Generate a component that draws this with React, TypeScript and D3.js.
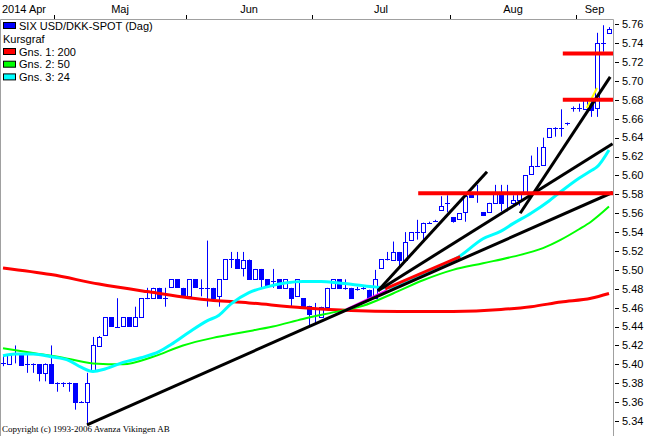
import * as d3 from "d3";

const W = 649;
const H = 436;
const plotRight = 613;
const plotTop = 19;

// daily candles, mid April -> 8 Sep 2014
const open = [
  5.402, 5.401, 5.41, 5.41, 5.4, 5.4, 5.4, 5.391, 5.4, 5.38,
  5.38, 5.38, 5.38, 5.36, 5.36, 5.392, 5.42, 5.431, 5.45, 5.44,
  5.441, 5.45, 5.441, 5.45, 5.47, 5.47, 5.481, 5.47, 5.482, 5.49,
  5.481, 5.472, 5.49, 5.481, 5.481, 5.481, 5.472, 5.49, 5.511, 5.511,
  5.502, 5.51, 5.49, 5.501, 5.49, 5.487, 5.49, 5.481, 5.481, 5.472,
  5.47, 5.462, 5.458, 5.45, 5.461, 5.481, 5.49, 5.481, 5.481, 5.481,
  5.479, 5.479, 5.47, 5.502, 5.511, 5.511, 5.519, 5.511, 5.532, 5.54,
  5.541, 5.55, 5.551, 5.564, 5.569, 5.556, 5.554, 5.561, 5.58, 5.578,
  5.561, 5.561, 5.571, 5.579, 5.579, 5.571, 5.574, 5.581, 5.602, 5.61,
  5.611, 5.641, 5.65, 5.65, 5.654, 5.67, 5.671, 5.671, 5.677, 5.671,
  5.74, 5.751,
];
const high = [
  5.41, 5.411, 5.42, 5.41, 5.41, 5.401, 5.4, 5.401, 5.42, 5.381,
  5.381, 5.381, 5.38, 5.361, 5.391, 5.429, 5.43, 5.45, 5.45, 5.47,
  5.45, 5.45, 5.461, 5.47, 5.481, 5.481, 5.481, 5.481, 5.49, 5.49,
  5.481, 5.49, 5.49, 5.49, 5.531, 5.481, 5.49, 5.511, 5.519, 5.519,
  5.519, 5.511, 5.501, 5.501, 5.49, 5.501, 5.49, 5.49, 5.481, 5.49,
  5.47, 5.462, 5.465, 5.461, 5.481, 5.49, 5.49, 5.49, 5.481, 5.482,
  5.482, 5.479, 5.5, 5.511, 5.519, 5.53, 5.519, 5.54, 5.54, 5.553,
  5.55, 5.551, 5.553, 5.578, 5.579, 5.556, 5.56, 5.58, 5.58, 5.59,
  5.561, 5.571, 5.59, 5.59, 5.59, 5.579, 5.581, 5.6, 5.621, 5.63,
  5.64, 5.65, 5.651, 5.67, 5.656, 5.673, 5.676, 5.68, 5.68, 5.751,
  5.759, 5.757,
];
const low = [
  5.398, 5.4, 5.401, 5.399, 5.391, 5.391, 5.382, 5.382, 5.38, 5.371,
  5.376, 5.371, 5.352, 5.359, 5.336, 5.392, 5.42, 5.431, 5.44, 5.439,
  5.441, 5.441, 5.441, 5.45, 5.469, 5.47, 5.47, 5.461, 5.482, 5.482,
  5.472, 5.472, 5.482, 5.472, 5.461, 5.47, 5.461, 5.49, 5.502, 5.501,
  5.493, 5.49, 5.49, 5.481, 5.484, 5.481, 5.481, 5.481, 5.461, 5.472,
  5.462, 5.44, 5.444, 5.45, 5.461, 5.481, 5.481, 5.479, 5.47, 5.478,
  5.479, 5.47, 5.47, 5.502, 5.51, 5.511, 5.502, 5.511, 5.532, 5.532,
  5.532, 5.549, 5.551, 5.564, 5.561, 5.55, 5.554, 5.551, 5.577, 5.571,
  5.557, 5.561, 5.571, 5.562, 5.562, 5.568, 5.568, 5.581, 5.602, 5.609,
  5.611, 5.641, 5.641, 5.641, 5.653, 5.6675, 5.6675, 5.671, 5.662, 5.662,
  5.731, 5.751,
];
const close = [
  5.401, 5.41, 5.411, 5.399, 5.4, 5.4, 5.391, 5.4, 5.38, 5.38,
  5.38, 5.38, 5.36, 5.36, 5.38, 5.42, 5.429, 5.45, 5.44, 5.44,
  5.45, 5.441, 5.45, 5.47, 5.47, 5.481, 5.47, 5.47, 5.49, 5.482,
  5.472, 5.49, 5.482, 5.481, 5.481, 5.47, 5.49, 5.511, 5.511, 5.501,
  5.51, 5.49, 5.501, 5.49, 5.484, 5.488, 5.481, 5.49, 5.47, 5.49,
  5.462, 5.454, 5.459, 5.461, 5.481, 5.49, 5.481, 5.481, 5.47, 5.48,
  5.481, 5.47, 5.49, 5.511, 5.511, 5.519, 5.511, 5.53, 5.54, 5.54,
  5.55, 5.55, 5.552, 5.568, 5.571, 5.552, 5.56, 5.578, 5.577, 5.58,
  5.558, 5.571, 5.58, 5.571, 5.58, 5.574, 5.581, 5.6, 5.61, 5.61,
  5.63, 5.65, 5.65, 5.65, 5.655, 5.671, 5.671, 5.68, 5.67, 5.74,
  5.74, 5.755,
];

// moving averages: [candle index, value]
const ma200: [number, number][] = [
  [0, 5.502], [8, 5.495], [16, 5.485], [24, 5.477], [33, 5.469], [41, 5.465],
  [50, 5.46], [58, 5.457], [66, 5.456], [75, 5.456], [83, 5.458], [88, 5.461],
  [93, 5.466], [98, 5.47], [101, 5.475],
];
const ma50: [number, number][] = [
  [0, 5.417], [5, 5.412], [10, 5.407], [15, 5.401], [20, 5.4], [25, 5.408],
  [30, 5.42], [35, 5.428], [40, 5.434], [45, 5.44], [50, 5.448], [55, 5.455],
  [60, 5.462], [65, 5.475], [70, 5.489], [75, 5.5], [80, 5.507], [85, 5.514],
  [90, 5.523], [93, 5.532], [96, 5.543], [98, 5.551], [101, 5.567],
];
const ma24: [number, number][] = [
  [0, 5.409], [2, 5.411], [5, 5.411], [8, 5.408], [11, 5.404], [13, 5.397],
  [15, 5.3925], [17, 5.395], [20, 5.402], [23, 5.407], [26, 5.4135], [28, 5.421],
  [31, 5.434], [34, 5.446], [36, 5.452], [38, 5.464], [41, 5.476], [44, 5.482],
  [47, 5.486], [50, 5.4876], [53, 5.4876], [56, 5.486], [59, 5.484], [62, 5.482],
  [64, 5.481], [66, 5.484], [70, 5.495], [73, 5.504], [76, 5.514], [80, 5.533],
  [83, 5.541], [85, 5.549], [88, 5.56], [91, 5.573], [93, 5.583], [96, 5.597],
  [98, 5.605], [99, 5.609], [101, 5.627],
];

// drawn trend lines
const blackLines: [number, number][][] = [
  [[14, 5.336], [101.6, 5.582]],
  [[62.5, 5.478], [101.6, 5.6335]],
  [[62.5, 5.478], [80.67, 5.604]],
  [[86.2, 5.56], [101.2, 5.7044]],
];
const redSegment: [number, number][] = [[63.7, 5.48], [76.2, 5.514]];
const magentaSegment: [number, number][] = [[57.3, 5.458], [64, 5.478]];
const yellowSegment: [number, number][] = [[97.3, 5.6714], [99, 5.6926]];
const levels = [
  { price: 5.581, from: 69.2 },
  { price: 5.68, from: 93.3 },
  { price: 5.729, from: 93.3 },
];

const yTicks = [
  5.34, 5.36, 5.38, 5.4, 5.42, 5.44, 5.46, 5.48, 5.5, 5.52, 5.54,
  5.56, 5.58, 5.6, 5.62, 5.64, 5.66, 5.68, 5.7, 5.72, 5.74, 5.76,
];
const monthNames = ["Maj", "Jun", "Jul", "Aug", "Sep"];
const monthStart = [9, 31, 52, 75, 96];

const legendItems = [
  { color: "#ff0000", label: "Gns. 1: 200" },
  { color: "#00ff00", label: "Gns. 2: 50" },
  { color: "#00ffff", label: "Gns. 3: 24" },
];

const font = "'Liberation Sans', Arial, sans-serif";

export default function App() {
  const x = d3.scaleLinear([0, 101], [3, 609]);
  const y = d3.scaleLinear([5.34, 5.76], [421, 24.3]);
  const curve = d3
    .line<[number, number]>((d) => x(d[0]), (d) => y(d[1]))
    .curve(d3.curveMonotoneX);
  const straight = d3.line<[number, number]>((d) => x(d[0]), (d) => y(d[1]));
  const fmt = d3.format(".2f");

  const bounds = [x(-0.5), ...monthStart.map((m) => x(m - 0.5)), plotRight];

  return (
    <svg
      width={W}
      height={H}
      style={{ position: "fixed", left: 0, top: 0, background: "#fff" }}
      fontFamily={font}
    >
      <defs>
        <clipPath id="plot">
          <rect x={0} y={plotTop} width={plotRight} height={H - plotTop} />
        </clipPath>
      </defs>
      <rect width={W} height={H} fill="#fff" />

      {/* month axis */}
      <text x={2} y={13} fontSize={11}>
        2014 Apr
      </text>
      {monthNames.map((m, i) => (
        <text
          key={m}
          x={(bounds[i + 1] + bounds[i + 2]) / 2}
          y={13}
          fontSize={11}
          textAnchor="middle"
        >
          {m}
        </text>
      ))}
      {monthStart.map((m) => (
        <line
          key={m}
          x1={Math.round(x(m - 0.5)) + 0.5}
          x2={Math.round(x(m - 0.5)) + 0.5}
          y1={15}
          y2={plotTop}
          stroke="#000"
        />
      ))}

      {/* frame */}
      <path
        d={`M0.5,${H}V${plotTop + 0.5}H${plotRight + 0.5}V${H}`}
        fill="none"
        stroke="#a0a0a0"
      />

      {/* price axis */}
      {yTicks.map((t) => (
        <g key={t}>
          <line
            x1={615}
            x2={619}
            y1={Math.round(y(t)) + 0.5}
            y2={Math.round(y(t)) + 0.5}
            stroke="#000"
          />
          <text x={622} y={y(t)} dy="0.35em" fontSize={11}>
            {fmt(t)}
          </text>
        </g>
      ))}

      <g clipPath="url(#plot)">
        {/* candles */}
        {open.map((o, i) => {
          const c = close[i];
          const cx = Math.round(x(i)) + 0.5;
          const top = y(Math.max(o, c));
          const bot = y(Math.min(o, c));
          const flat = Math.abs(o - c) < 0.0025;
          return (
            <g key={i} stroke="#0000ff" strokeWidth={1}>
              <line x1={cx} x2={cx} y1={y(high[i])} y2={y(low[i])} />
              {flat ? (
                <line
                  x1={cx - 2.5}
                  x2={cx + 2.5}
                  y1={Math.round(y(c)) + 0.5}
                  y2={Math.round(y(c)) + 0.5}
                />
              ) : (
                <rect
                  x={cx - 2}
                  y={Math.round(top) + 0.5}
                  width={4}
                  height={Math.max(1, Math.round(bot - top))}
                  fill={c < o ? "#0000ff" : "#ffffff"}
                />
              )}
            </g>
          );
        })}

        {/* moving averages */}
        <path d={curve(ma200) ?? ""} fill="none" stroke="#ff0000" strokeWidth={3} />
        <path d={curve(ma50) ?? ""} fill="none" stroke="#00ff00" strokeWidth={2} />
        <path d={curve(ma24) ?? ""} fill="none" stroke="#00ffff" strokeWidth={3} />

        {/* trend lines */}
        <path d={straight(magentaSegment) ?? ""} stroke="#ff00ff" strokeWidth={3} />
        <path d={straight(redSegment) ?? ""} stroke="#ff0000" strokeWidth={3} />
        {blackLines.map((l, i) => (
          <path key={i} d={straight(l) ?? ""} stroke="#000" strokeWidth={3} />
        ))}
        <path d={straight(yellowSegment) ?? ""} stroke="#ffff00" strokeWidth={2} />
        {levels.map((lv) => (
          <line
            key={lv.price}
            x1={x(lv.from)}
            x2={plotRight}
            y1={y(lv.price)}
            y2={y(lv.price)}
            stroke="#ff0000"
            strokeWidth={4}
          />
        ))}
      </g>

      {/* legend */}
      <g fontSize={11}>
        <rect x={3.5} y={22.5} width={12} height={6} fill="#0000ff" stroke="#000" />
        <text x={19} y={30}>
          SIX USD/DKK-SPOT (Dag)
        </text>
        <text x={3} y={42.5}>
          Kursgraf
        </text>
        {legendItems.map((it, i) => (
          <g key={it.label}>
            <rect
              x={3.5}
              y={48.5 + i * 12.7}
              width={12}
              height={6}
              fill={it.color}
              stroke="#000"
            />
            <text x={19} y={55.5 + i * 12.7}>
              {it.label}
            </text>
          </g>
        ))}
      </g>

      <text
        x={2}
        y={432}
        fontSize={9}
        fontFamily="'Liberation Serif', 'Times New Roman', serif"
      >
        Copyright (c) 1993-2006 Avanza Vikingen AB
      </text>
    </svg>
  );
}
